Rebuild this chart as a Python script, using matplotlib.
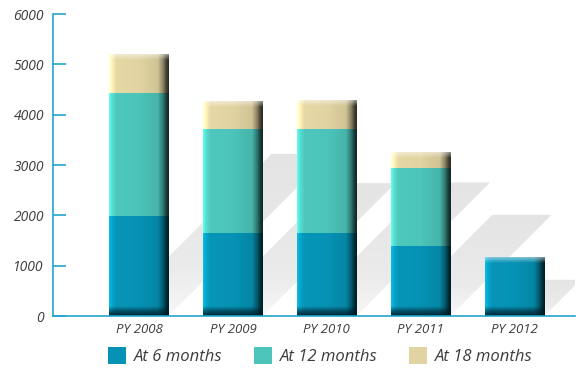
import numpy as np
import matplotlib
matplotlib.use("Agg")
import matplotlib.pyplot as plt
from matplotlib.colors import to_rgb
from matplotlib.patches import Polygon, Patch

years = ["PY 2008", "PY 2009", "PY 2010", "PY 2011", "PY 2012"]
at_6 = [1990, 1650, 1650, 1400, 1160]
at_12 = [2440, 2060, 2060, 1535, 0]
at_18 = [770, 550, 570, 310, 0]
series_names = ["At 6 months", "At 12 months", "At 18 months"]
colors = ["#0692b4", "#4cc4b9", "#e2d4a2"]

axis_col = "#22a5cc"
text_col = "#3c3c3c"

plt.rcParams["font.family"] = ["Open Sans", "DejaVu Sans"]
plt.rcParams["font.style"] = "italic"

fig = plt.figure(figsize=(5.76, 3.69), dpi=100)
ax = fig.add_axes([0.092, 0.1436, 0.906, 0.818])
ax.set_xlim(-0.915, 4.64)
ax.set_ylim(0, 6000)

x = np.arange(len(years))
width = 0.63
stack = [at_6, at_12, at_18]

bottoms = np.zeros(len(years))
bar_sets = []
for vals, col, name in zip(stack, colors, series_names):
    bars = ax.bar(x, vals, width, bottom=bottoms, color=col, zorder=3, label=name)
    bar_sets.append(bars)
    bottoms = bottoms + np.array(vals)
totals = bottoms

# pixel scale, used to give the diagonal shadows a 45 degree lean
px_x = ax.bbox.width / (ax.get_xlim()[1] - ax.get_xlim()[0])
px_y = ax.bbox.height / (ax.get_ylim()[1] - ax.get_ylim()[0])

grad = np.linspace(0, 1, 60)
shadow_img = np.ones((60, 1, 3)) * np.interp(grad, [0, 0.3, 1], [0.97, 0.92, 0.895])[:, None, None]

for xi, tot in zip(x, totals):
    top = 0.62 * tot
    shift = top * px_y / px_x
    x0, x1 = xi - width / 2, xi + width / 2
    poly = Polygon([(x0, 0), (x1, 0), (x1 + shift, top), (x0 + shift, top)],
                   closed=True, facecolor="none", edgecolor="none", zorder=1)
    ax.add_patch(poly)
    im = ax.imshow(shadow_img, extent=(x0, x1 + shift, 0, top), aspect="auto",
                   origin="lower", zorder=1, interpolation="bilinear")
    im.set_clip_path(poly)


def shade(rect, color, is_bottom, is_top):
    x0, y0 = rect.get_xy()
    w, h = rect.get_width(), rect.get_height()
    if h <= 0:
        return
    base = np.array(to_rgb(color))
    u = np.linspace(0, 1, 80)
    f = np.interp(u, [0, 0.04, 0.12, 0.5, 0.82, 0.91, 0.96, 1.0],
                  [1.3, 1.15, 1.02, 1.0, 0.92, 0.6, 0.32, 0.2])
    img = np.clip(base[None, :] * f[:, None], 0, 1)
    ax.imshow(img[None, :, :], extent=(x0, x0 + w, y0, y0 + h), aspect="auto",
              zorder=4, interpolation="bilinear")
    if is_bottom:
        v = np.linspace(0, 1, 40)
        a = np.interp(v, [0, 0.5, 1], [0.9, 0.55, 0.0])
        ov = np.zeros((40, 1, 4))
        ov[:, 0, 0:3] = [0.0, 0.1, 0.14]
        ov[:, 0, 3] = a
        ax.imshow(ov, extent=(x0, x0 + w, y0, y0 + 190), aspect="auto",
                  origin="lower", zorder=5, interpolation="bilinear")
    if is_top:
        v = np.linspace(0, 1, 40)
        a = np.interp(v, [0, 0.6, 1], [0.0, 0.3, 0.5])
        ov = np.ones((40, 1, 4))
        ov[:, 0, 3] = a
        ax.imshow(ov, extent=(x0, x0 + w, y0 + h - 110, y0 + h), aspect="auto",
                  origin="lower", zorder=5, interpolation="bilinear")


for i in range(len(years)):
    segs = [(bs[i], col) for bs, col in zip(bar_sets, colors) if bs[i].get_height() > 0]
    for k, (rect, col) in enumerate(segs):
        shade(rect, col, k == 0, k == len(segs) - 1)

ax.set_xlim(-0.915, 4.64)
ax.set_ylim(0, 6000)

for side in ["top", "right"]:
    ax.spines[side].set_visible(False)
for side in ["left", "bottom"]:
    ax.spines[side].set_color(axis_col)
    ax.spines[side].set_linewidth(1.2)
    ax.spines[side].set_zorder(6)

ax.set_yticks(range(0, 6001, 1000))
ax.tick_params(axis="y", direction="in", length=9, width=1.2, color=axis_col,
               labelsize=10, labelcolor=text_col, pad=6.5)
ax.set_xticks(x)
ax.set_xticklabels(years)
ax.tick_params(axis="x", length=0, labelsize=9.5, labelcolor=text_col, pad=5)

handles = [Patch(facecolor=c, edgecolor="none") for c in colors]
fig.legend(handles, series_names, loc="center", ncol=3, frameon=False,
           bbox_to_anchor=(0.556, 0.036), fontsize=12, handlelength=1.1,
           handleheight=1.2, handletextpad=0.45, columnspacing=1.9,
           labelcolor=text_col)

fig.savefig("out.png", dpi=100)
